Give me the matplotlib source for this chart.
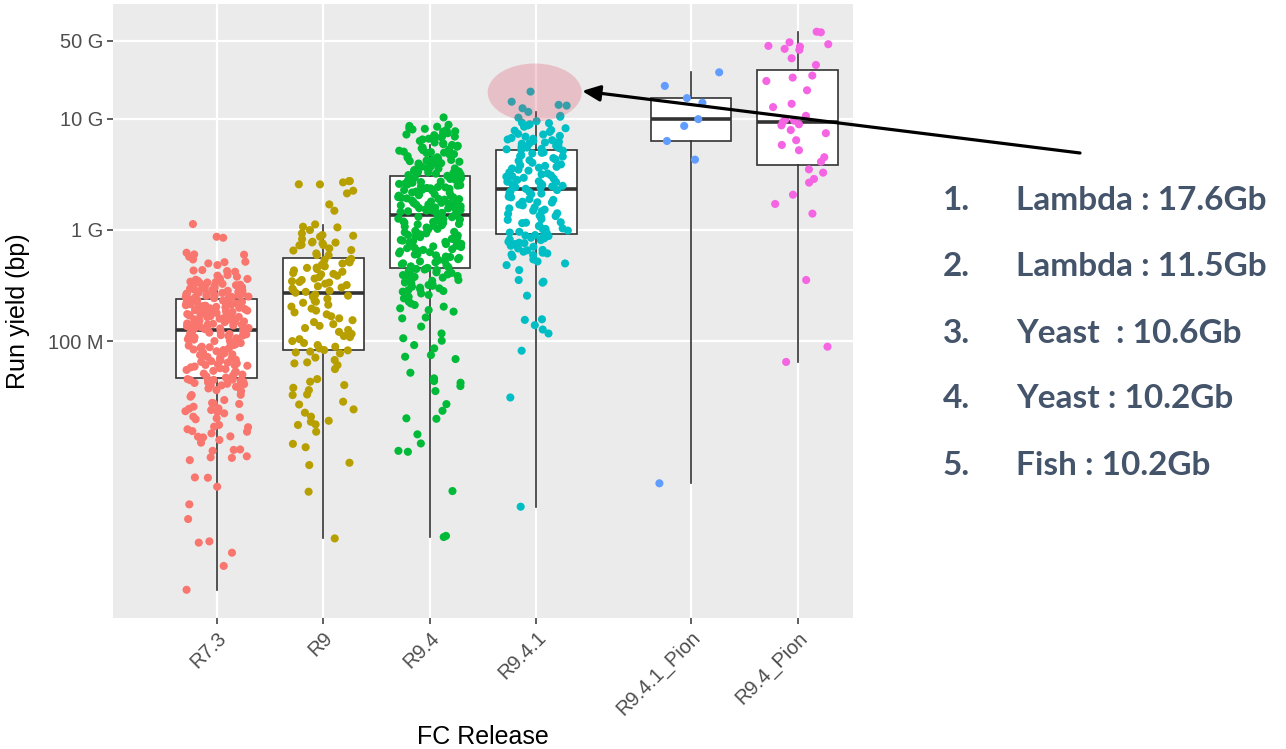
import numpy as np
import matplotlib
matplotlib.use("Agg")
import matplotlib.pyplot as plt
from matplotlib.patches import Ellipse, FancyArrowPatch
from matplotlib.ticker import NullLocator, FixedLocator

plt.rcParams['font.family'] = ['Liberation Sans', 'DejaVu Sans']

# ---------------- data (run yield in millions of bp) ----------------
categories = ["R7.3", "R9", "R9.4", "R9.4.1", "R9.4.1_Pion", "R9.4_Pion"]
colors = ["#F8766D", "#B79F00", "#00BA38", "#00BFC4", "#619CFF", "#F564E3"]

r73 = [1128, 867, 849, 623, 601, 598, 573, 542, 517, 512, 499, 482, 426, 435, 431, 420, 392, 388, 379, 366,
       362, 348, 351, 339, 336, 327, 333, 318, 321, 309, 312, 301, 296, 305, 288, 291, 283, 279, 285, 272,
       268, 275, 263, 259, 266, 252, 255, 248, 246, 251, 243, 241, 239, 244, 258, 271, 294, 314, 342, 356,
       262, 277, 299, 325, 249,
       234, 229, 231, 225, 221, 218, 226, 214, 210, 207, 212, 203, 199, 205, 196, 192, 188, 194, 185, 181,
       178, 183, 175, 171, 168, 173, 165, 162, 159, 166, 156, 153, 150, 157, 148, 146, 143, 149, 140, 138,
       136, 141, 133, 131, 129, 134, 127, 232, 216, 201, 190, 179, 170, 161, 152, 144, 137, 130, 223, 208,
       186, 164, 139, 128, 197,
       124, 121, 118, 122, 115, 112, 116, 109, 106, 111, 103, 100, 104, 97, 95, 99, 92, 89, 93, 87,
       84, 88, 81, 79, 83, 77, 75, 78, 72, 70, 74, 68, 66, 69, 64, 62, 65, 60, 58, 61,
       57, 55, 59, 53, 52, 56, 50, 49, 51, 47, 48, 46.5, 119, 108, 96, 86, 76, 67, 60.5, 54,
       113, 91, 71, 63, 101,
       38.8, 36.2, 35.5, 32.7, 32.9, 37.5, 31.6, 29.5, 27.5, 27.8, 27.2, 25.7, 22.4, 24.0, 24.8, 20.2,
       20.9, 23.1, 20.6, 19.8, 23.4, 24.6, 17.0, 15.3, 16.1, 16.8, 17.6, 15.5, 14.8, 13.8, 13.9, 12.9,
       13.6, 12.2, 10.6, 10.5, 10.3, 9.0, 8.9, 9.2, 8.5, 5.94, 5.90, 4.90, 3.40, 2.51, 1.54, 1.58, 1.25,
       0.95, 0.58, 45.5, 44.8, 44.0, 43.2, 42.5, 41.7, 41.0, 40.3, 45.0, 43.8, 42.0, 39.9, 44.5, 41.3]

r9 = [2673, 2748, 2564, 2570, 2740, 2128, 2249, 1694, 1486, 1120, 1067, 996, 1052, 771, 768, 730, 867, 885,
      929, 898, 735, 658, 755, 782, 826, 681, 593, 726, 652, 614, 590,
      535, 524, 510, 548, 498, 485, 470, 458, 445, 432, 420, 455, 409, 398, 387, 376, 365, 402, 354, 345,
      336, 328, 319, 311, 303, 296, 289, 283, 277, 272, 340,
      262, 251, 240, 256, 230, 221, 212, 204, 226, 196, 188, 181, 174, 167, 160, 154, 148, 142, 137, 131,
      126, 121, 116, 111, 108.6, 104, 100, 96, 92, 89, 86,
      83, 77.5, 79.1, 67.5, 63.0, 64.3, 60.8, 56.0, 45.5, 43.1, 40.2, 36.2, 38.0, 33.1, 32.7, 28.5, 26.9,
      24.3, 22.7, 18.8, 19.2, 20.9, 17.8, 17.6, 15.3, 11.9, 11.1, 8.05, 7.67, 4.42, 1.68, 82.5, 80.5, 71]

r94 = [10260, 8800, 8460, 8200, 8600, 7900, 7630, 7700, 7400, 8100, 7200, 6900, 7000, 6650, 6800, 6500,
       6300, 6100, 6600, 5900, 5700, 5800, 5500, 5400, 5600, 5200, 5300, 5050, 4900, 5000, 4750, 4800,
       4600, 4500, 4390, 4450, 4250, 4300, 4100, 4150, 4000, 3950, 3850, 3900, 3750, 3800, 3650, 3700,
       3570, 3600, 3500, 3450, 3400, 3350, 3300, 3250, 3200, 3150, 3110, 3080, 3060, 7100, 6000, 4950,
       4200, 3550, 8000, 5150, 3980, 3280,
       2990, 2940, 2870, 2910, 2820, 2760, 2790, 2700, 2650, 2690, 2610, 2560, 2590, 2500, 2470, 2430,
       2380, 2410, 2340, 2300, 2260, 2280, 2210, 2170, 2190, 2130, 2090, 2110, 2050, 2010, 2030, 1970,
       1940, 1960, 1900, 1870, 1890, 1840, 1810, 1780, 1800, 1750, 1720, 1740, 1690, 1660, 1680, 1630,
       1610, 1590, 1560, 1540, 1570, 1510, 1490, 1470, 1500, 1440, 1420, 1400, 1450, 1380, 1370, 2720,
       2520, 2360, 2150, 1920, 1700, 1530,
       1340, 1310, 1280, 1300, 1250, 1220, 1240, 1190, 1160, 1180, 1130, 1100, 1120, 1070, 1050, 1030,
       1000, 1020, 980, 960, 940, 950, 910, 890, 900, 870, 850, 860, 830, 810, 820, 790, 770, 780, 750,
       735, 745, 720, 700, 710, 685, 670, 660, 645, 630, 640, 615, 600, 590, 575, 560, 570, 545, 535,
       525, 510, 500, 490, 480, 470, 462, 455, 1260, 1090, 930, 800, 690, 605, 520, 1150,
       420, 448, 435, 354, 342, 392, 406, 308, 287, 278, 330, 366, 319, 298, 268, 250, 242, 211, 226,
       190, 184, 204, 218, 197, 160, 163, 135, 117, 106, 92, 100.7, 86, 74.8, 68.9, 72.3, 51.9, 46.2,
       43.7, 42.2, 39.4, 35.5, 27.1, 23.6, 20.2, 20.0, 14.5, 12.0, 10.1, 10.3, 4.48, 1.73, 1.77,
       445, 440, 428, 415, 410, 398, 385, 378, 372, 360, 348, 336, 325, 314, 302, 292, 282, 260]

r941 = [17500, 14200, 12400, 13300, 13100, 11500, 10400, 10600, 10200, 9190, 9100, 8460, 8200, 8700, 7900,
        7600, 7300, 7000, 6880, 6700, 6500, 6300, 6100, 5950, 5790, 5600, 5450, 5300, 5250, 7800, 6600,
        5500, 8900, 6200, 5350, 7200, 6000, 5700, 9500, 6400,
        5150, 4980, 4870, 4690, 4560, 4420, 4290, 4170, 4010, 3880, 3810, 3690, 3620, 3480, 3410, 3290,
        3220, 3090, 3010, 2940, 2890, 2810, 2730, 2690, 2610, 2570, 2490, 2460, 2390, 2340, 4930, 4230,
        3560, 3040, 2710, 2420, 4610, 3760, 3160, 2540,
        2280, 2230, 2190, 2160, 2090, 2060, 1990, 1960, 1890, 1860, 1790, 1760, 1690, 1660, 1590, 1560,
        1490, 1470, 1410, 1390, 1330, 1310, 1250, 1230, 1170, 1150, 1090, 1080, 1030, 1010, 985, 960,
        935, 2120, 1770, 1520, 1340, 1160, 1020, 945,
        898, 705, 681, 809, 614, 573, 636, 782, 623, 821, 766, 593, 542, 482, 499, 435, 342, 354, 335,
        256, 155, 139, 157, 127, 117, 81.9, 31.1, 3.24, 890, 870, 850, 760, 720, 660, 600, 520, 880,
        840, 745, 655]

r941_pion = [26100, 19700, 13900, 15300, 9900, 8600, 6300, 4280, 5.26]

r94_pion = [59800, 60500, 48600, 44400, 41500, 46700, 45100, 42400, 34900, 30400, 24400, 23400, 21800,
            18000, 13600, 12700, 10600, 9600, 9800, 9300, 8900, 8700, 7900, 7400, 6400, 5800, 5200,
            4500, 4100, 3500, 3270, 2870, 2660, 2070, 1710, 1400, 354, 89, 64.9]

groups = [r73, r9, r94, r941, r941_pion, r94_pion]

# box statistics (millions of bp)
box_whislo = [0.578, 1.68, 1.74, 3.24, 5.26, 64.9]
box_q1 = [46.3, 83, 450, 917, 6300, 3840]
box_med = [126, 268, 1359, 2310, 9900, 9330]
box_q3 = [237.6, 562, 3048, 5220, 15300, 27400]
box_whishi = [367, 1104, 5790, 11540, 26100, 59800]

ytick_values = [50e9, 10e9, 1e9, 100e6]
ytick_labels = ["50 G", "10 G", "1 G", "100 M"]

notes_num = ["1.", "2.", "3.", "4.", "5."]
notes_txt = ["Lambda : 17.6Gb", "Lambda : 11.5Gb", "Yeast  : 10.6Gb", "Yeast : 10.2Gb", "Fish : 10.2Gb"]

# ---------------- layout ----------------
W, H = 1286, 749
fig = plt.figure(figsize=(W / 100, H / 100), dpi=100)
fig.patch.set_facecolor("white")

def fx(px):
    return px / W

def fy(py):
    return 1 - py / H

left, right, top, bottom = 113.3, 853, 4, 618.3
ax = fig.add_axes([fx(left), fy(bottom), (right - left) / W, (bottom - top) / H])
ax.set_facecolor("#EBEBEB")
for s in ax.spines.values():
    s.set_visible(False)

positions = [0, 1, 2, 3, 4.45, 5.45]
ax.set_yscale("log")

stats = []
for i in range(len(categories)):
    stats.append(dict(med=box_med[i] * 1e6, q1=box_q1[i] * 1e6, q3=box_q3[i] * 1e6,
                      whislo=box_whislo[i] * 1e6, whishi=box_whishi[i] * 1e6, fliers=[]))
ax.bxp(stats, positions=positions, widths=0.757, patch_artist=True, showfliers=False, showcaps=False,
       manage_ticks=False,
       boxprops=dict(facecolor="white", edgecolor="#333333", linewidth=1.2),
       medianprops=dict(color="#333333", linewidth=2.6, solid_capstyle="butt"),
       whiskerprops=dict(color="#333333", linewidth=1.2), zorder=2)

rng = np.random.default_rng(11)
for pos, vals, col in zip(positions, groups, colors):
    v = np.asarray(vals, dtype=float) * 1e6
    jit = rng.uniform(-0.3, 0.3, len(v))
    ax.scatter(pos + jit, v, s=34, color=col, edgecolors="none", zorder=3)

ax.set_ylim(10 ** 5.507, 10 ** 11.031)
ax.set_xlim(-0.97, 5.97)
ax.set_axisbelow(True)
ax.yaxis.set_major_locator(FixedLocator(ytick_values))
ax.yaxis.set_minor_locator(NullLocator())
ax.set_yticklabels(ytick_labels)
ax.xaxis.set_major_locator(FixedLocator(positions))
ax.xaxis.set_minor_locator(NullLocator())
ax.set_xticklabels(categories, rotation=45, ha="right", rotation_mode="anchor")
ax.grid(True, color="white", linewidth=1.6)
ax.tick_params(axis="both", length=4.5, width=1.1, color="#333333", labelcolor="#4D4D4D",
               labelsize=14.4, pad=2.5)

fig.text(fx(18), fy(311), "Run yield (bp)", rotation=90, ha="center", va="center", fontsize=18, color="black")
fig.text(fx(483), fy(737), "FC Release", ha="center", va="center", fontsize=18, color="black")

# highlight ellipse and arrow
ell = Ellipse((fx(534.7), fy(92.5)), 94 / W, 58 / H, transform=fig.transFigure,
              facecolor="#DF405C", alpha=0.25, edgecolor="none", zorder=5)
fig.add_artist(ell)
arr = FancyArrowPatch((fx(1080), fy(153)), (fx(582), fy(91)), transform=fig.transFigure,
                      arrowstyle="-|>,head_length=0.45,head_width=0.2", mutation_scale=24,
                      color="black", linewidth=2.3, shrinkA=0, shrinkB=0, zorder=6)
fig.add_artist(arr)

baselines = [210.5, 276.5, 343, 408.5, 474.5]
for b, n, t in zip(baselines, notes_num, notes_txt):
    fig.text(fx(943), fy(b), n, ha="left", va="baseline", fontsize=24, fontweight="bold",
             color="#44546A", family=["Lato", "DejaVu Sans"])
    fig.text(fx(1016), fy(b), t, ha="left", va="baseline", fontsize=24, fontweight="bold",
             color="#44546A", family=["Lato", "DejaVu Sans"])

fig.savefig("out.png", dpi=100)
